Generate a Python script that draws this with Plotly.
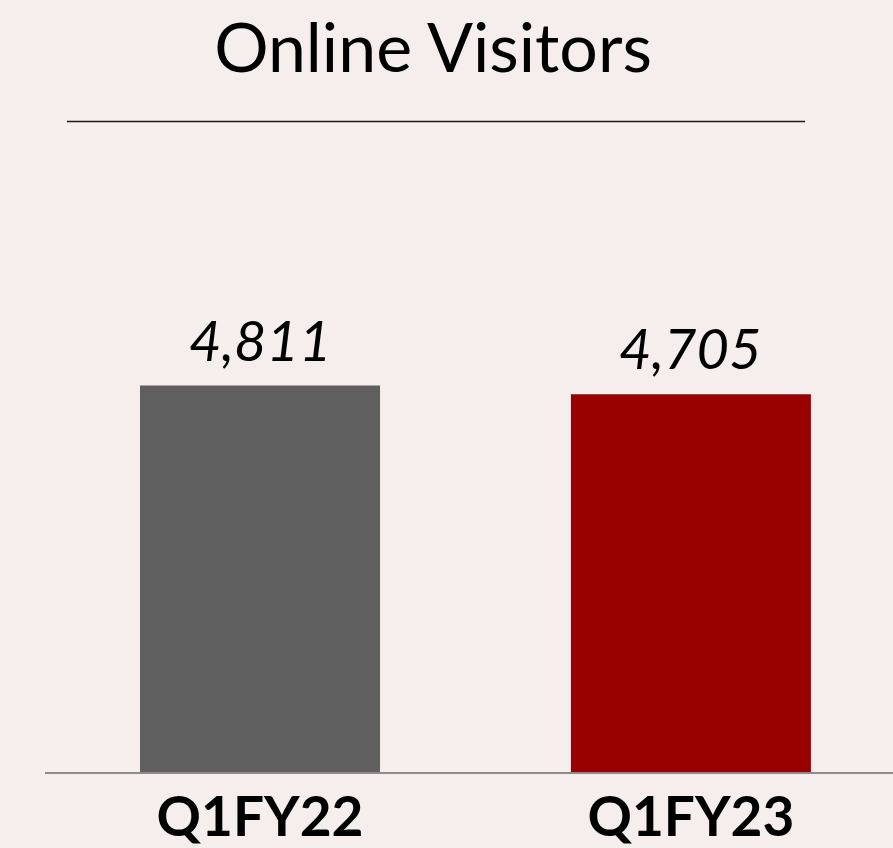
import plotly.graph_objects as go

categories = ["Q1FY22", "Q1FY23"]
values = [4811, 4705]
bar_colors = ["#5F5F5F", "#990000"]
title_text = "Online Visitors"

W, H = 893, 848
BG = "#F5EEED"

fig = go.Figure()
fig.add_trace(go.Bar(
    x=categories,
    y=values,
    marker=dict(color=bar_colors, line=dict(width=0)),
    width=0.557,
    hoverinfo="skip",
))

for c, v in zip(categories, values):
    fig.add_annotation(
        x=c, y=v, xref="x", yref="y",
        text=f"<i>{v:,}</i>", showarrow=False,
        yanchor="bottom", yshift=11,
        font=dict(family="Lato", size=56, color="#000000"),
    )

fig.update_layout(
    width=W, height=H,
    margin=dict(l=0, r=0, t=0, b=0),
    paper_bgcolor=BG, plot_bgcolor=BG,
    showlegend=False,
    title=dict(
        text=title_text,
        x=433 / W, xanchor="center",
        y=1 - 48 / H, yanchor="middle",
        font=dict(family="Lato", size=68, color="#000000"),
    ),
    xaxis=dict(
        domain=[45 / W, 1],
        range=[-0.499, 1.469],
        showline=True, linecolor="#8C8C8C", linewidth=2,
        showgrid=False, zeroline=False,
        ticks="", ticklabelstandoff=-4,
        tickfont=dict(family="Lato", size=55, color="#000000", weight="bold"),
    ),
    yaxis=dict(
        domain=[1 - 775 / H, 1 - 133 / H],
        range=[0, 7960],
        visible=False,
    ),
    shapes=[dict(
        type="line", xref="paper", yref="paper",
        x0=67 / W, x1=805 / W, y0=1 - 122 / H, y1=1 - 122 / H,
        line=dict(color="#1A1A1A", width=1.5),
    )],
)

fig.write_html(
    "out.html",
    config={"displayModeBar": False},
    post_script="document.body.style.margin='0';document.body.style.overflow='hidden';",
)
